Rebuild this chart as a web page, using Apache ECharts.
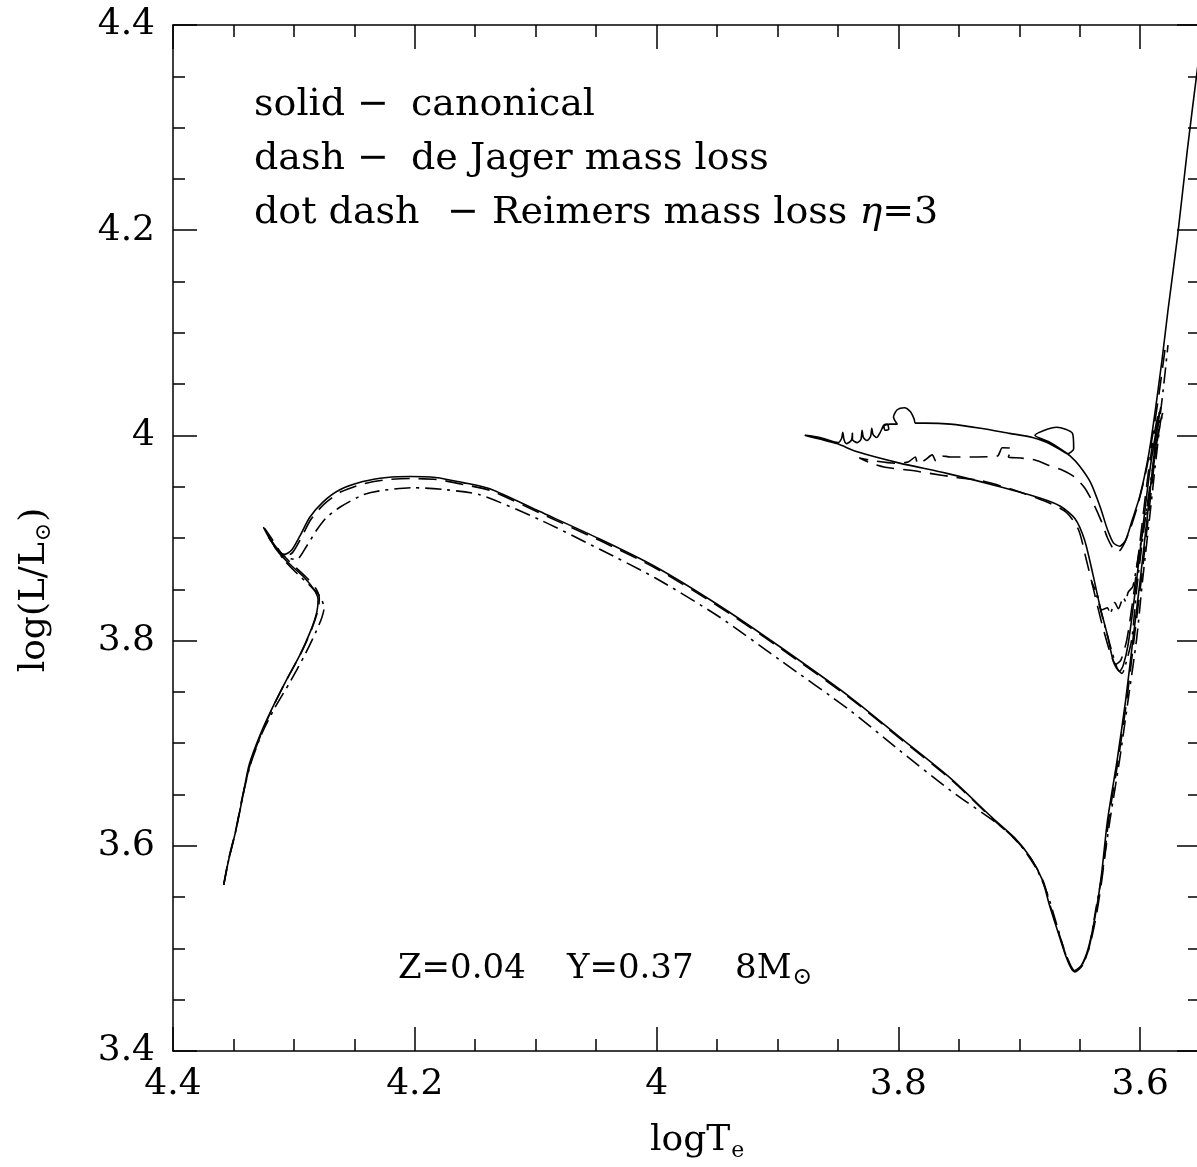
<!DOCTYPE html>
<html>
<head>
<meta charset="utf-8">
<title>8 Msun tracks, Z=0.04</title>
<script src="https://cdn.jsdelivr.net/npm/echarts@6/dist/echarts.min.js"></script>
<style>
  html, body { margin: 0; padding: 0; background: #fff; }
  #chart { width: 1197px; height: 1167px; }
</style>
</head>
<body>
<div id="chart"></div>
<script>
// Axis ranges (log Teff decreases to the right)
const xRange = [3.553, 4.4];
const yRange = [3.4, 4.4];
const xTickValues = [3.6, 3.8, 4.0, 4.2, 4.4];
const xTickLabels = ['3.6', '3.8', '4', '4.2', '4.4'];
const yTickLabels = ['3.4', '3.6', '3.8', '4', '4.2', '4.4'];

// Canonical evolution (solid): [logTe, log(L/Lsun)]
const canonicalTrack = [
  [4.358,3.562],[4.354,3.586],[4.348,3.615],[4.342,3.650],[4.337,3.679],[4.328,3.708],[4.318,3.734],
  [4.306,3.762],[4.295,3.786],[4.286,3.810],[4.281,3.828],[4.280,3.840],[4.283,3.849],[4.291,3.861],
  [4.302,3.873],[4.312,3.885],[4.318,3.896],[4.325,3.910],[4.320,3.899],[4.313,3.888],[4.308,3.884],
  [4.302,3.888],[4.295,3.902],[4.287,3.920],[4.276,3.935],[4.262,3.947],[4.243,3.955],[4.223,3.959],
  [4.204,3.960],[4.183,3.959],[4.160,3.954],[4.138,3.948],[4.097,3.926],[4.047,3.899],[4.001,3.872],
  [3.948,3.834],[3.898,3.794],[3.840,3.745],[3.799,3.706],[3.757,3.666],[3.722,3.627],[3.704,3.608],
  [3.691,3.589],[3.681,3.567],[3.675,3.542],[3.668,3.516],[3.661,3.491],[3.655,3.478],[3.649,3.483],
  [3.643,3.500],[3.637,3.533],[3.632,3.572],[3.627,3.625],
  [3.619,3.684],[3.612,3.742],[3.606,3.801],[3.600,3.859],[3.594,3.922],[3.589,3.976],[3.585,4.015],
  [3.583,4.027],
  [3.586,4.010],[3.592,3.966],[3.598,3.908],[3.604,3.849],[3.610,3.796],[3.614,3.776],[3.617,3.770],
  [3.622,3.779],[3.627,3.805],[3.633,3.832],[3.639,3.864],[3.646,3.898],[3.654,3.919],[3.666,3.931],
  [3.683,3.939],[3.716,3.950],[3.760,3.963],[3.799,3.973],[3.834,3.984],[3.851,3.992],[3.877,4.000],
  [3.865,3.998],[3.850,3.993],[3.847,3.997],[3.846,4.003],[3.845,3.996],[3.843,3.992],[3.839,3.995],
  [3.838,4.002],[3.838,3.996],[3.834,3.993],[3.831,3.996],[3.830,4.005],[3.829,3.998],[3.826,3.995],
  [3.823,3.999],[3.822,4.007],[3.821,4.001],[3.818,3.998],[3.815,4.003],[3.812,4.010],[3.809,4.011],
  [3.808,4.006],[3.811,4.005],[3.812,4.009],[3.807,4.011],
  [3.801,4.011],[3.804,4.018],[3.801,4.025],[3.795,4.027],[3.790,4.023],[3.787,4.016],[3.786,4.012],
  [3.778,4.012],[3.757,4.011],[3.732,4.007],[3.708,4.002],[3.689,3.998],[3.677,3.993],[3.666,3.986],
  [3.660,3.982],[3.655,3.987],[3.656,4.002],[3.669,4.008],[3.687,4.000],[3.676,3.994],[3.665,3.986],
  [3.658,3.980],[3.650,3.970],[3.641,3.954],[3.633,3.930],[3.627,3.908],[3.622,3.895],[3.617,3.892],
  [3.612,3.898],[3.607,3.916],[3.600,3.942],[3.593,3.981],[3.588,4.020],[3.582,4.073],[3.577,4.122],
  [3.569,4.195],[3.561,4.278],[3.553,4.354],[3.546,4.417]
];

// de Jager mass loss (dashed)
const deJagerTrack = [
  [4.358,3.563],[4.354,3.587],[4.348,3.616],[4.342,3.651],[4.336,3.680],[4.327,3.709],[4.317,3.736],
  [4.305,3.764],[4.294,3.788],[4.285,3.812],[4.280,3.830],[4.279,3.841],[4.282,3.851],[4.290,3.862],
  [4.301,3.874],[4.311,3.886],[4.317,3.897],[4.324,3.909],[4.319,3.898],[4.312,3.887],[4.307,3.882],
  [4.301,3.886],[4.294,3.900],[4.286,3.918],[4.275,3.933],[4.261,3.945],[4.242,3.953],[4.222,3.957],
  [4.203,3.958],[4.182,3.957],[4.159,3.952],[4.137,3.946],[4.096,3.924],[4.046,3.897],[4.000,3.870],
  [3.947,3.832],[3.897,3.792],[3.839,3.743],[3.798,3.704],[3.756,3.664],[3.721,3.625],[3.703,3.606],
  [3.690,3.587],[3.680,3.565],[3.674,3.540],[3.667,3.514],[3.660,3.490],[3.654,3.478],[3.648,3.484],
  [3.642,3.501],[3.636,3.534],[3.631,3.573],[3.626,3.626],
  [3.618,3.685],[3.611,3.743],[3.605,3.802],[3.599,3.860],[3.593,3.923],[3.588,3.977],[3.585,4.012],
  [3.584,4.025],
  [3.587,4.010],[3.593,3.966],[3.599,3.908],[3.605,3.849],[3.611,3.801],[3.616,3.781],[3.620,3.777],
  [3.625,3.789],[3.632,3.818],[3.638,3.847],[3.645,3.881],[3.651,3.908],[3.661,3.925],[3.677,3.935],
  [3.705,3.947],[3.732,3.956],[3.752,3.959],[3.774,3.963],[3.790,3.966],[3.811,3.969],[3.823,3.973],
  [3.832,3.978],
  [3.819,3.975],[3.803,3.973],[3.792,3.974],[3.786,3.979],[3.784,3.972],[3.778,3.976],[3.772,3.981],
  [3.769,3.975],[3.764,3.980],[3.757,3.979],[3.735,3.979],[3.718,3.980],[3.714,3.988],[3.706,3.987],
  [3.709,3.979],[3.699,3.978],[3.687,3.976],[3.676,3.971],[3.666,3.967],[3.655,3.960],[3.646,3.949],
  [3.638,3.932],[3.632,3.916],[3.627,3.900],[3.622,3.889],[3.618,3.887],[3.613,3.895],[3.607,3.913],
  [3.602,3.932],[3.595,3.966],[3.589,4.005],[3.584,4.044],[3.579,4.088]
];

// Reimers mass loss, eta = 3 (dot-dash)
const reimersTrack = [
  [4.358,3.562],[4.354,3.586],[4.348,3.615],[4.342,3.650],[4.336,3.679],[4.327,3.708],[4.316,3.734],
  [4.303,3.760],[4.291,3.786],[4.282,3.808],[4.277,3.822],[4.275,3.832],[4.279,3.844],[4.287,3.854],
  [4.297,3.865],[4.307,3.877],[4.315,3.890],[4.322,3.903],[4.314,3.888],[4.306,3.881],[4.298,3.879],
  [4.289,3.893],[4.281,3.908],[4.273,3.920],[4.262,3.930],[4.243,3.942],[4.229,3.946],[4.202,3.949],
  [4.174,3.947],[4.146,3.942],[4.097,3.918],[4.047,3.889],[4.001,3.861],[3.948,3.823],[3.898,3.781],
  [3.840,3.732],[3.799,3.693],[3.757,3.654],[3.713,3.617],[3.698,3.599],[3.686,3.578],[3.677,3.554],
  [3.669,3.523],[3.661,3.492],[3.654,3.477],[3.648,3.483],[3.642,3.502],[3.637,3.536],[3.631,3.576],
  [3.625,3.625],
  [3.617,3.684],[3.610,3.742],[3.603,3.801],[3.598,3.859],[3.592,3.922],[3.587,3.976],[3.583,4.015],
  [3.581,4.023],
  [3.584,4.007],[3.590,3.966],[3.597,3.908],[3.603,3.849],[3.607,3.801],[3.612,3.777],[3.615,3.768],
  [3.619,3.773],[3.625,3.796],[3.631,3.822],[3.636,3.844],[3.640,3.857],
  [3.635,3.843],[3.632,3.830],[3.627,3.832],[3.625,3.826],[3.621,3.837],[3.618,3.831],[3.614,3.842],
  [3.612,3.838],[3.610,3.847],[3.606,3.853],[3.602,3.879],[3.596,3.918],[3.590,3.961],[3.585,4.005],
  [3.581,4.044],[3.577,4.088]
];

// Annotation text
const legendLines = [
  ['solid', '\u2212', 'canonical'],
  ['dash', '\u2212', 'de Jager mass loss'],
  ['dot dash', '\u2212', 'Reimers mass loss {i|\u03b7}=3']
];
const modelLabels = ['Z=0.04', 'Y=0.37', '8M'];
const sunSymbol = '\u2299';
const xAxisTitle = ['logT', 'e'];
const yAxisTitle = ['log(L/L', ')'];

const FONT = '"DejaVu Serif", "DejaVu Sans", serif';
const SIZE = 36;
const LEGEND_SIZE = 38;
const MODEL_SIZE = 34;
const measureCtx = document.createElement('canvas').getContext('2d');
function textWidth(s, size, style) {
  measureCtx.font = (style ? style + ' ' : '') + size + 'px ' + FONT;
  return measureCtx.measureText(s).width;
}
function textEl(s, x, y, size, extraStyle) {
  return {
    type: 'text', x: x, y: y, silent: true,
    style: Object.assign({
      text: s, fontSize: size, fontFamily: FONT, fill: '#000',
      textAlign: 'left', textVerticalAlign: 'middle', align: 'left', verticalAlign: 'middle'
    }, extraStyle || {})
  };
}

const graphics = [];
// legend block
const legendX = [[254, 357, 411], [254, 357, 411], [254, 447, 492]];
const legendY = [105, 159, 213];
legendLines.forEach((parts, i) => {
  parts.forEach((p, j) => {
    graphics.push(textEl(p, legendX[i][j], legendY[i], LEGEND_SIZE,
      { rich: { i: { fontStyle: 'italic', fontSize: LEGEND_SIZE, fontFamily: FONT } } }));
  });
});
// model parameters
const modelX = [398, 567, 735];
const modelY = 969;
modelLabels.forEach((s, i) => graphics.push(textEl(s, modelX[i], modelY, MODEL_SIZE)));
graphics.push(textEl(sunSymbol, modelX[2] + textWidth(modelLabels[2], MODEL_SIZE) + 1, modelY + 9, 24));
// x-axis title
const xtX = 650, xtY = 1141;
graphics.push(textEl(xAxisTitle[0], xtX, xtY, SIZE));
graphics.push(textEl(xAxisTitle[1], xtX + textWidth(xAxisTitle[0], SIZE) + 1, xtY + 10, 22));
// y-axis title (rotated, reads bottom to top)
const w1 = textWidth(yAxisTitle[0], SIZE);
const ws = textWidth(sunSymbol, 22);
const w3 = textWidth(yAxisTitle[1], SIZE);
const total = w1 + ws + w3 + 2;
graphics.push({
  type: 'group', x: 35, y: 590, rotation: Math.PI / 2,
  children: [
    textEl(yAxisTitle[0], -total / 2, 0, SIZE),
    textEl(sunSymbol, -total / 2 + w1 + 1, 9, 22),
    textEl(yAxisTitle[1], -total / 2 + w1 + ws + 2, 0, SIZE)
  ]
});

const labelStyle = { color: '#000', fontFamily: FONT, fontSize: SIZE };
function axisBase(showLine, major, minor) {
  return {
    type: 'value',
    axisLine: { show: showLine, onZero: false, lineStyle: { color: '#000', width: 1.5 } },
    axisTick: { show: true, inside: true, length: major, lineStyle: { color: '#000', width: 1.5 } },
    minorTick: { show: true, splitNumber: 4, length: minor, lineStyle: { color: '#000', width: 1.5 } },
    splitLine: { show: false },
    minorSplitLine: { show: false }
  };
}
function fmt(list) {
  return v => { const s = String(+(+v).toFixed(2)); return list.indexOf(s) >= 0 ? s : ''; };
}
function xAxisDef(position, showLabel) {
  const ax = Object.assign(axisBase(true, 24, 12), {
    position: position, min: xRange[0], max: xRange[1], inverse: true,
    minInterval: 0.2, maxInterval: 0.2,
    axisLabel: Object.assign({
      show: showLabel, margin: 16,
      // an empty label at the axis end keeps the 3.6 label centred on its tick
      customValues: [xRange[0]].concat(xTickValues),
      alignMinLabel: 'center', alignMaxLabel: 'center',
      formatter: fmt(xTickLabels)
    }, labelStyle)
  });
  ax.axisTick.customValues = xTickValues;
  return ax;
}
function yAxisDef(position, showLabel, showLine, major, minor) {
  return Object.assign(axisBase(showLine, major, minor), {
    position: position, min: yRange[0], max: yRange[1], interval: 0.2,
    axisLabel: Object.assign({ show: showLabel, margin: 18, formatter: fmt(yTickLabels) }, labelStyle)
  });
}

function track(name, data, type, z) {
  return {
    name: name, type: 'line', data: data, showSymbol: false, symbol: 'none',
    smooth: 0.25, clip: true, z: z, animation: false,
    lineStyle: { color: '#000', width: 1.6, type: type, cap: 'butt', join: 'round' }
  };
}

const chart = echarts.init(document.getElementById('chart'), null, { renderer: 'canvas' });
chart.setOption({
  animation: false,
  backgroundColor: '#fff',
  grid: { left: 173, top: 25, width: 1024, height: 1026, containLabel: false, outerBoundsMode: 'none' },
  xAxis: [xAxisDef('bottom', true), xAxisDef('top', false)],
  yAxis: [yAxisDef('left', true, true, 24, 12), yAxisDef('right', false, false, 20, 9)],
  series: [
    track('Reimers mass loss', reimersTrack, [16, 6, 3, 6], 2),
    track('de Jager mass loss', deJagerTrack, [18, 9], 3),
    track('canonical', canonicalTrack, 'solid', 4)
  ],
  graphic: graphics
});
</script>
</body>
</html>
